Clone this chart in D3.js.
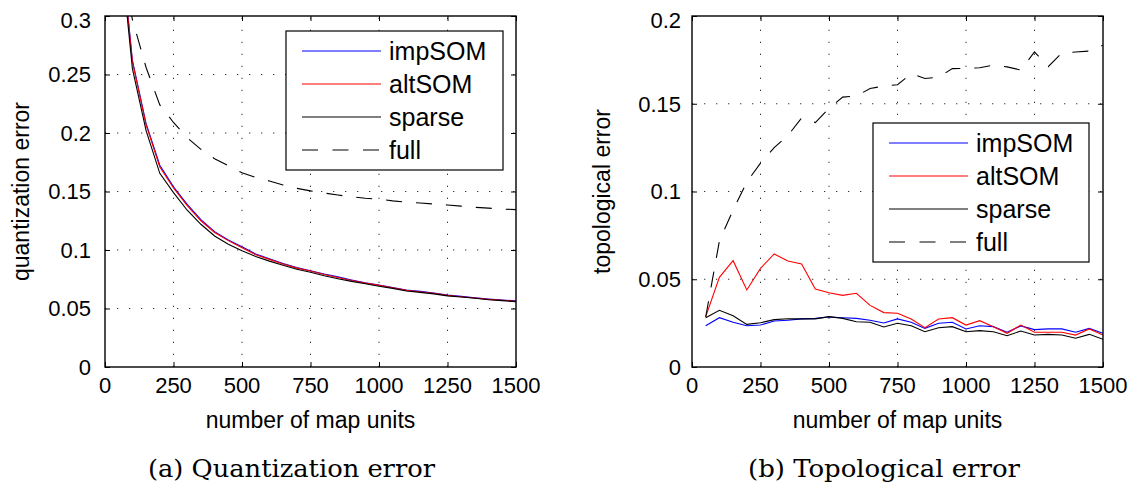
<!DOCTYPE html>
<html><head><meta charset="utf-8">
<script src="https://cdn.jsdelivr.net/npm/d3@7"></script>
<style>
html,body{margin:0;padding:0;background:#fff;}
svg{display:block;}
text{font-family:"Liberation Sans", Arial, Helvetica, sans-serif;fill:#000;}
.cap{font-family:"DejaVu Serif","Liberation Serif",serif;}
</style></head>
<body>
<svg id="chart" width="1146" height="486"></svg>
<script>
// ---------- data ----------
const mapUnits = [50,100,150,200,250,300,350,400,450,500,550,600,650,700,750,800,850,900,950,1000,1050,1100,1150,1200,1250,1300,1350,1400,1450,1500];
const seriesNames = ["impSOM","altSOM","sparse","full"];
const seriesColors = ["#0000ff","#ff0000","#000000","#000000"];

// (a) quantization error
const qeImpSOM = [0.380,0.262,0.208,0.1725,0.154,0.139,0.126,0.1157,0.1085,0.1028,0.0966,0.0925,0.0885,0.0850,0.0823,0.0795,0.0770,0.0744,0.0720,0.0701,0.0680,0.0658,0.0646,0.0632,0.0615,0.0604,0.0592,0.0581,0.0572,0.0565];
const qeAltSOM = [0.378,0.261,0.207,0.1710,0.153,0.138,0.125,0.1150,0.1080,0.1020,0.0960,0.0920,0.0880,0.0845,0.0820,0.0790,0.0765,0.0740,0.0717,0.0698,0.0677,0.0655,0.0643,0.0630,0.0612,0.0601,0.0590,0.0578,0.0570,0.0562];
const qeSparse = [0.372,0.255,0.202,0.1655,0.149,0.134,0.122,0.1120,0.1050,0.0994,0.0945,0.0905,0.0870,0.0835,0.0810,0.0780,0.0755,0.0732,0.0712,0.0690,0.0672,0.0650,0.0638,0.0625,0.0608,0.0598,0.0587,0.0575,0.0567,0.0558];
const qeFull   = [0.360,0.297,0.256,0.224,0.209,0.196,0.186,0.178,0.172,0.166,0.162,0.159,0.1555,0.1527,0.1505,0.1487,0.147,0.1455,0.1442,0.1435,0.142,0.1408,0.1402,0.1393,0.1385,0.1375,0.1365,0.1358,0.135,0.1345];

// (b) topological error
const teImpSOM = [0.0235,0.0281,0.0255,0.0235,0.0239,0.0262,0.0266,0.0274,0.0277,0.0285,0.0281,0.0277,0.0266,0.0251,0.0274,0.0255,0.0220,0.0249,0.0255,0.0217,0.0235,0.0230,0.0198,0.0234,0.0213,0.0217,0.0217,0.0198,0.0220,0.0192];
const teAltSOM = [0.0287,0.0511,0.0606,0.0439,0.0562,0.0644,0.0604,0.0587,0.0444,0.0423,0.0408,0.0420,0.0351,0.0310,0.0306,0.0274,0.0224,0.0274,0.0281,0.0239,0.0264,0.0230,0.0192,0.0239,0.0198,0.0198,0.0198,0.0182,0.0217,0.0182];
const teSparse = [0.0281,0.0323,0.0292,0.0243,0.0252,0.0270,0.0275,0.0274,0.0274,0.0287,0.0277,0.0258,0.0255,0.0228,0.0249,0.0235,0.0201,0.0224,0.0230,0.0201,0.0207,0.0201,0.0178,0.0205,0.0182,0.0186,0.0182,0.0164,0.0186,0.0158];
const teFull   = [0.0285,0.0718,0.0895,0.1054,0.1162,0.1250,0.1319,0.1419,0.1393,0.1473,0.1538,0.1544,0.1587,0.1601,0.1608,0.1672,0.1644,0.1651,0.1700,0.1701,0.1705,0.1720,0.1710,0.1692,0.1795,0.1711,0.1790,0.1795,0.1800,0.1834];

const xTicks = [0,250,500,750,1000,1250,1500];
const qeTicks = [0,0.05,0.1,0.15,0.2,0.25,0.3];
const teTicks = [0,0.05,0.1,0.15,0.2];
const qeTickLabels = ["0","0.05","0.1","0.15","0.2","0.25","0.3"];
const teTickLabels = ["0","0.05","0.1","0.15","0.2"];

const xLabel = "number of map units";
const qeLabel = "quantization error";
const teLabel = "topological error";
const captionA = "(a) Quantization error";
const captionB = "(b) Topological error";

// ---------- drawing ----------
const svg = d3.select("#chart");

function panel(cfg){
  const g = svg.append("g");
  const x = d3.scaleLinear().domain([0,1500]).range([cfg.left, cfg.right]);
  const y = d3.scaleLinear().domain([0,cfg.ymax]).range([cfg.bottom, cfg.top]);
  const id = "clip" + cfg.key;
  svg.append("clipPath").attr("id", id).append("rect")
    .attr("x", cfg.left).attr("y", cfg.top)
    .attr("width", cfg.right-cfg.left).attr("height", cfg.bottom-cfg.top);

  // grid
  const grid = g.append("g").attr("stroke","#333").attr("stroke-width",1)
      .attr("stroke-dasharray","1.3,10.7");
  xTicks.slice(1,-1).forEach(t=>{
    grid.append("line").attr("x1",x(t)).attr("x2",x(t)).attr("y1",cfg.bottom).attr("y2",cfg.top);
  });
  cfg.yTicks.slice(1,-1).forEach(t=>{
    grid.append("line").attr("y1",y(t)).attr("y2",y(t)).attr("x1",cfg.left).attr("x2",cfg.right);
  });

  // axes via d3 (ticks inward, no labels), bottom/top/left/right
  const tl = 5;
  const axB = g.append("g").attr("transform",`translate(0,${cfg.bottom})`)
    .call(d3.axisBottom(x).tickValues(xTicks).tickSize(-tl).tickFormat(""));
  const axT = g.append("g").attr("transform",`translate(0,${cfg.top})`)
    .call(d3.axisTop(x).tickValues(xTicks).tickSize(-tl).tickFormat(""));
  const axL = g.append("g").attr("transform",`translate(${cfg.left},0)`)
    .call(d3.axisLeft(y).tickValues(cfg.yTicks).tickSize(-tl).tickFormat(""));
  const axR = g.append("g").attr("transform",`translate(${cfg.right},0)`)
    .call(d3.axisRight(y).tickValues(cfg.yTicks).tickSize(-tl).tickFormat(""));
  [axB,axT,axL,axR].forEach(a=>{
    a.select(".domain").remove();
    a.selectAll("line").attr("stroke","#000").attr("stroke-width",1);
  });

  // tick labels
  g.append("g").selectAll("text").data(xTicks).join("text")
    .attr("x", d=>x(d)).attr("y", cfg.bottom+26)
    .attr("text-anchor","middle").attr("font-size",22).text(d=>d);
  g.append("g").selectAll("text").data(cfg.yTicks).join("text")
    .attr("x", cfg.left - cfg.ylabGap).attr("y", d=>Math.max(y(d), cfg.top+4))
    .attr("dy","0.36em").attr("text-anchor","end").attr("font-size",22)
    .text((d,i)=>cfg.yTickLabels[i]);

  // lines
  const line = d3.line().x((d,i)=>x(mapUnits[i])).y(d=>y(d));
  const lg = g.append("g").attr("clip-path",`url(#${id})`).attr("fill","none");
  cfg.series.forEach((s,i)=>{
    lg.append("path").datum(s).attr("d",line)
      .attr("stroke",seriesColors[i]).attr("stroke-width",1.1)
      .attr("stroke-dasharray", i===3 ? "16,14" : null);
  });

  // frame
  g.append("rect").attr("x",cfg.left).attr("y",cfg.top)
    .attr("width",cfg.right-cfg.left).attr("height",cfg.bottom-cfg.top)
    .attr("fill","none").attr("stroke","#000").attr("stroke-width",1.4);

  // legend
  const L = cfg.legend;
  const lgd = g.append("g");
  lgd.append("rect").attr("x",L.x).attr("y",L.y).attr("width",L.w).attr("height",L.h)
    .attr("fill","#fff").attr("stroke","#000").attr("stroke-width",1.2);
  seriesNames.forEach((n,i)=>{
    const cy = L.y + 20 + i*33;
    lgd.append("line").attr("x1",L.x+16).attr("x2",L.x+95).attr("y1",cy).attr("y2",cy)
      .attr("stroke",seriesColors[i]).attr("stroke-width",1.1)
      .attr("stroke-dasharray", i===3 ? "16,14.5" : null);
    lgd.append("text").attr("x",L.x+103).attr("y",cy).attr("dy","0.36em")
      .attr("font-size",25).text(n);
  });

  // axis labels
  g.append("text").attr("x",(cfg.left+cfg.right)/2).attr("y",cfg.bottom+61)
    .attr("text-anchor","middle").attr("font-size",23).text(xLabel);
  g.append("text").attr("transform",`translate(${cfg.ylabX},${(cfg.top+cfg.bottom)/2}) rotate(-90)`)
    .attr("text-anchor","middle").attr("font-size",23).text(cfg.ylab);

  // caption
  g.append("text").attr("class","cap").attr("x",cfg.capX).attr("y",477)
    .attr("text-anchor","middle").attr("font-size",24)
    .attr("textLength",cfg.capW).attr("lengthAdjust","spacingAndGlyphs")
    .text(cfg.caption);
}

panel({key:"a", left:105, right:516, top:16, bottom:367, ymax:0.3,
  yTicks:qeTicks, yTickLabels:qeTickLabels, ylabGap:14, ylabX:29, ylab:qeLabel,
  series:[qeImpSOM,qeAltSOM,qeSparse,qeFull],
  legend:{x:286,y:31,w:217,h:139}, caption:captionA, capX:291.5, capW:287});
panel({key:"b", left:692, right:1103, top:16, bottom:367, ymax:0.2,
  yTicks:teTicks, yTickLabels:teTickLabels, ylabGap:11, ylabX:610, ylab:teLabel,
  series:[teImpSOM,teAltSOM,teSparse,teFull],
  legend:{x:873,y:123,w:216,h:139}, caption:captionB, capX:884, capW:272});
</script>
</body></html>
